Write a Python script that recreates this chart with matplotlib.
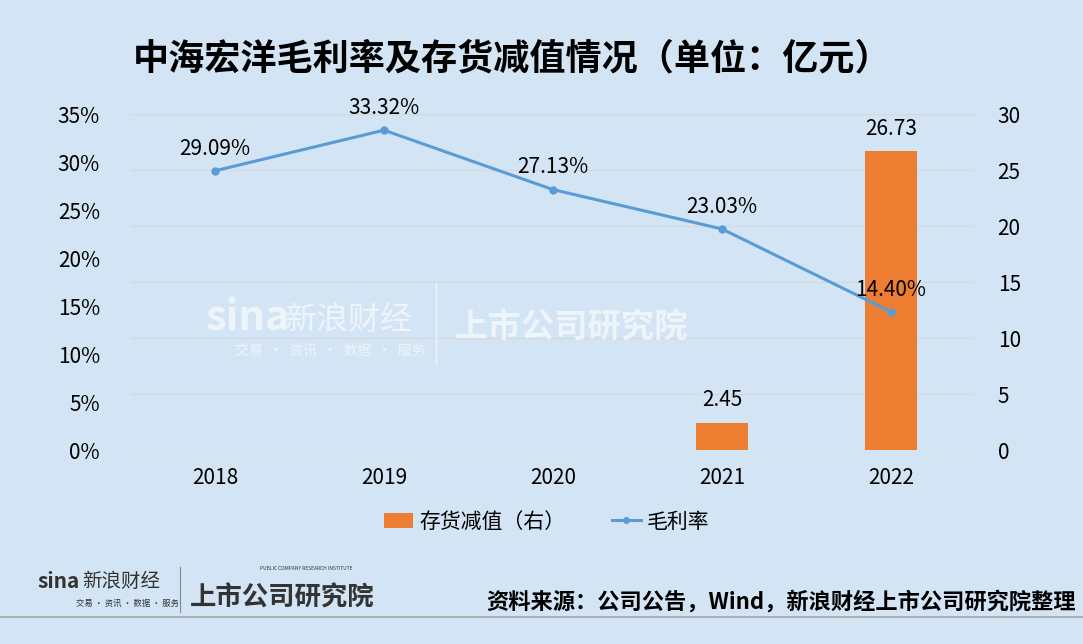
import matplotlib.pyplot as plt
import numpy as np
from matplotlib.lines import Line2D
from matplotlib.patches import Patch

plt.rcParams['font.family'] = ['Noto Sans CJK SC', 'DejaVu Sans']

years = ['2018', '2019', '2020', '2021', '2022']
margin = [29.09, 33.32, 27.13, 23.03, 14.40]       # 毛利率 %
impair = [np.nan, np.nan, np.nan, 2.45, 26.73]    # 存货减值 亿元

bg = '#D3E5F4'
orange = '#ED7D31'
blue = '#5B9BD5'
grid_c = '#D5D9DD'

fig = plt.figure(figsize=(10.83, 6.44), dpi=100, facecolor=bg)
ax1 = fig.add_axes([0.1205, 0.3012, 0.7802, 0.5217])
ax1.set_facecolor('none')
ax2 = ax1.twinx()
ax1.set_zorder(2)
ax2.set_zorder(1)
ax2.set_facecolor(bg)

x = np.arange(len(years))

# bars on right axis
ax2.bar(x, impair, width=0.313, color=orange, zorder=3)
for xi, v in zip(x, impair):
    if not np.isnan(v):
        ax2.annotate(f'{v:.2f}', (xi, v), xytext=(0, 8), textcoords='offset points',
                     ha='center', va='bottom', fontsize=15)
ax2.set_ylim(0, 30)
ax2.set_yticks(np.arange(0, 31, 5))
ax2.tick_params(axis='y', length=0, pad=16, labelsize=15)

# line on left axis
ax1.plot(x, margin, color=blue, lw=2.2, marker='o', ms=5, zorder=4)
for xi, v in zip(x, margin):
    ax1.annotate(f'{v:.2f}%', (xi, v), xytext=(0, 8), textcoords='offset points',
                 ha='center', va='bottom', fontsize=15, zorder=5)
ax1.set_ylim(0, 35)
ax1.set_yticks(np.arange(0, 36, 5))
ax1.set_yticklabels([f'{t}%' for t in range(0, 36, 5)])
ax1.set_xlim(-0.5, len(years) - 0.5)
ax1.set_xticks(x)
ax1.set_xticklabels(years)
ax1.tick_params(axis='y', length=0, pad=22, labelsize=15)
ax1.tick_params(axis='x', length=0, pad=12, labelsize=15)

# gridlines drawn on the back axes
for t in np.arange(0, 31, 5):
    ax2.axhline(t, color=grid_c, lw=1, zorder=0)

for a in (ax1, ax2):
    for s in a.spines.values():
        s.set_visible(False)

# title
fig.text(0.123, 0.908, '中海宏洋毛利率及存货减值情况（单位：亿元）', fontsize=26,
         fontweight='bold', ha='left', va='center')

# legend
handles = [Patch(facecolor=orange, edgecolor='none'),
           Line2D([0], [0], color=blue, lw=2.2, marker='o', ms=4)]
fig.legend(handles, ['存货减值（右）', '毛利率'], loc='center', bbox_to_anchor=(0.505, 0.19),
           ncol=2, frameon=False, fontsize=15, handlelength=1.4, columnspacing=2.2,
           handletextpad=0.3)

# watermark
wm = dict(color='white', alpha=0.6, va='center')
fig.text(0.19, 0.505, 'sina', fontsize=30, fontweight='bold', style='italic',
         ha='left', **wm)
fig.text(0.263, 0.503, '新浪财经', fontsize=23, ha='left', **wm)
fig.text(0.217, 0.455, '交易  ·  资讯  ·  数据  ·  服务', fontsize=10, ha='left', **wm)
fig.add_artist(Line2D([0.403, 0.403], [0.437, 0.56], color='white', alpha=0.6, lw=1))
fig.text(0.42, 0.49, '上市公司研究院', fontsize=24, fontweight='bold', ha='left', **wm)

# bottom logo
fig.text(0.035, 0.097, 'sina', fontsize=15, fontweight='bold', style='italic',
         color='#333333', ha='left', va='center')
fig.text(0.076, 0.097, '新浪财经', fontsize=14, color='#333333', ha='left', va='center')
fig.text(0.07, 0.063, '交易 · 资讯 · 数据 · 服务', fontsize=6, color='#333333',
         ha='left', va='center')
fig.add_artist(Line2D([0.166, 0.166], [0.05, 0.12], color='#888888', lw=0.8))
fig.text(0.175, 0.072, '上市公司研究院', fontsize=19, fontweight='bold', style='italic',
         color='#333333', ha='left', va='center')
fig.text(0.24, 0.118, 'PUBLIC COMPANY RESEARCH INSTITUTE', fontsize=3.5, color='#333333',
         ha='left', va='center')

# source
fig.text(0.993, 0.065, '资料来源：公司公告，Wind，新浪财经上市公司研究院整理', fontsize=16,
         fontweight='bold', ha='right', va='center')
fig.add_artist(Line2D([0, 1], [0.042, 0.042], color='#A6A6A6', lw=1.2))

fig.savefig('out.png', dpi=100, facecolor=bg)
